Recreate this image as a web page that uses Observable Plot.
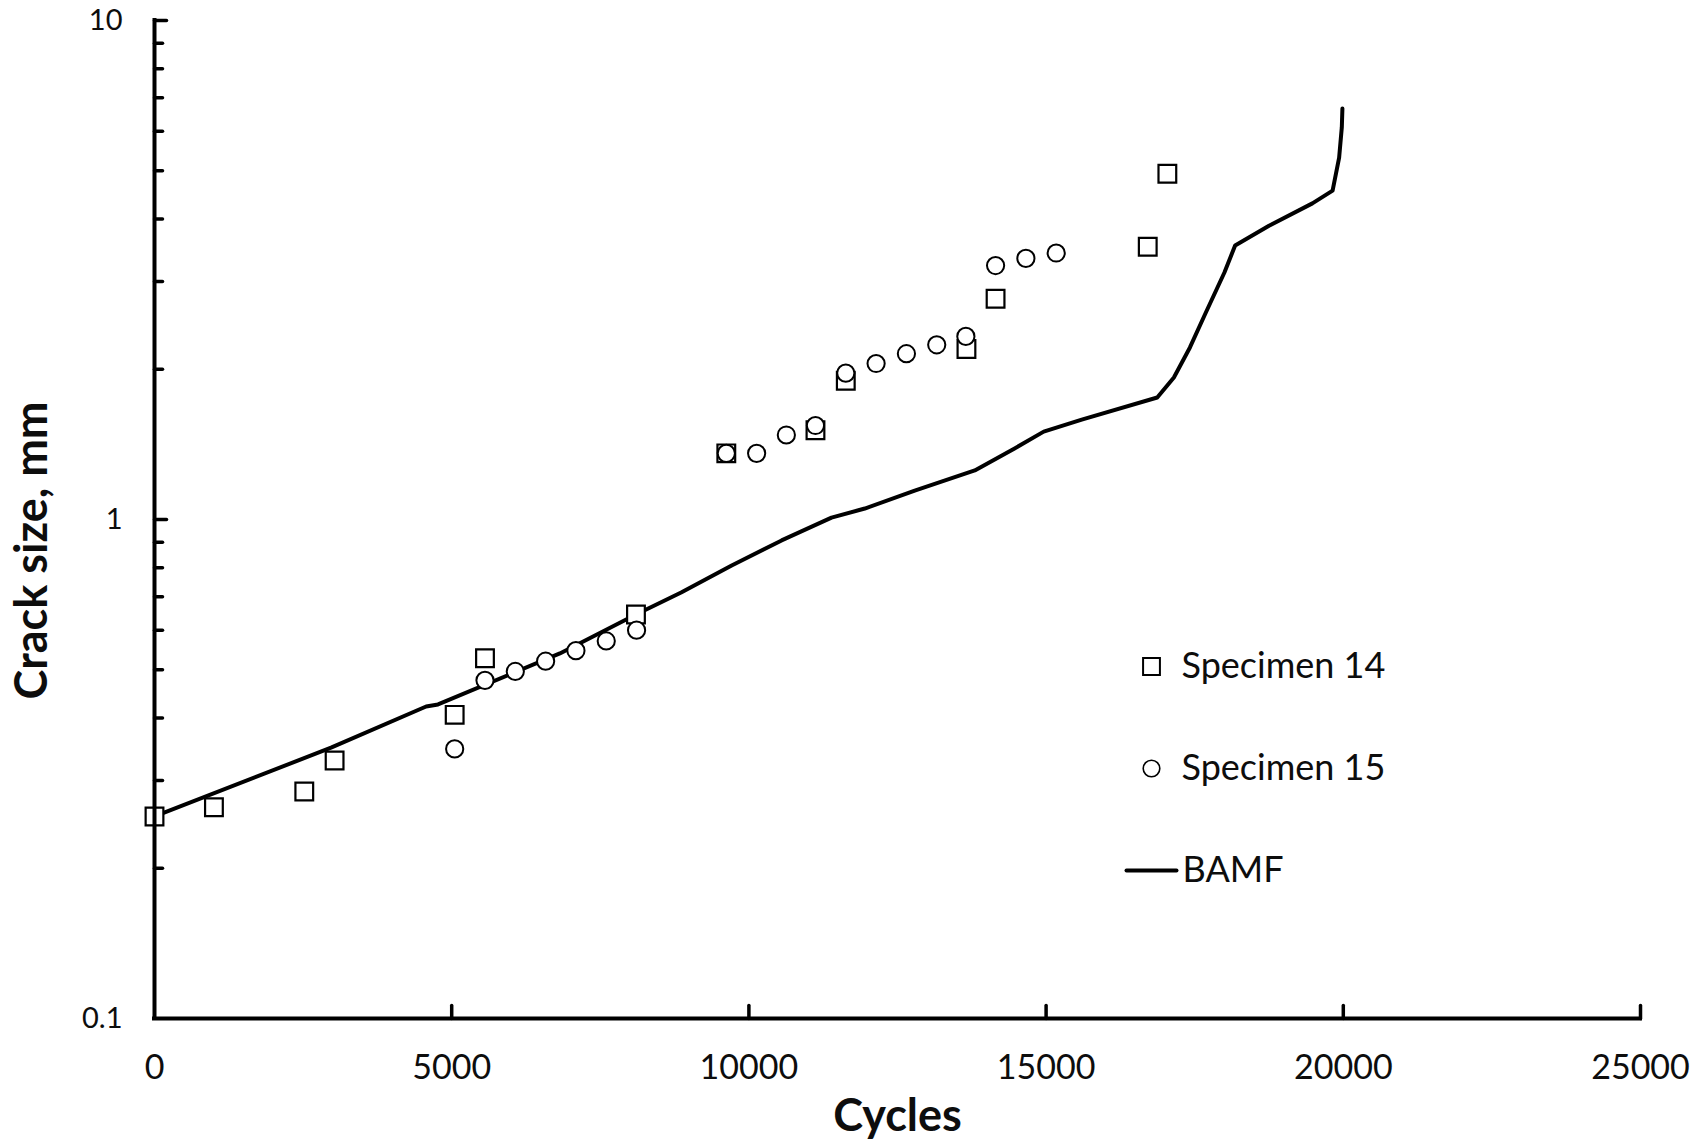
<!DOCTYPE html>
<html><head><meta charset="utf-8">
<script src="https://cdn.jsdelivr.net/npm/d3@7"></script>
<script src="https://cdn.jsdelivr.net/npm/@observablehq/plot@0.6"></script>
<style>html,body{margin:0;padding:0;background:#fff;} svg{display:block;}</style>
</head><body><div id="chart"></div>
<script>
// ---- data ----
const spec14Cycles = [0, 1000, 2520, 3030, 5050, 5560, 8100, 9620, 11120, 11630, 13660, 14150, 16710, 17040];
const spec14Crack  = [0.254, 0.265, 0.285, 0.329, 0.406, 0.527, 0.645, 1.357, 1.51, 1.897, 2.196, 2.77, 3.52, 4.93];

const spec15Cycles = [5050, 5560, 6070, 6580, 7090, 7600, 8110, 9620, 10130, 10630, 11120, 11630, 12140, 12650, 13160, 13650, 14150, 14660, 15170];
const spec15Crack  = [0.347, 0.476, 0.496, 0.520, 0.546, 0.571, 0.600, 1.357, 1.357, 1.477, 1.543, 1.965, 2.054, 2.149, 2.239, 2.328, 3.228, 3.336, 3.42];

const bamfCycles = [0, 2970, 4570, 4770, 6820, 8100, 8860, 9710, 10550, 11390, 11950, 12790, 13800, 14470, 14960, 15600, 16870, 17150, 17420, 17680, 18000, 18180, 18750, 19480, 19820, 19930, 19975, 19985];
const bamfCrack  = [0.254, 0.349, 0.422, 0.426, 0.539, 0.645, 0.714, 0.809, 0.908, 1.009, 1.052, 1.143, 1.254, 1.388, 1.50, 1.586, 1.756, 1.926, 2.212, 2.587, 3.126, 3.54, 3.88, 4.30, 4.56, 5.31, 6.11, 6.66];

const xTickValues = [0, 5000, 10000, 15000, 20000, 25000];
const xTickLabels = ["0", "5000", "10000", "15000", "20000", "25000"];
const yTickValues = [0.1, 1, 10];
const yTickLabels = ["0.1", "1", "10"];
const yMinorTicks = [0.2, 0.3, 0.4, 0.5, 0.6, 0.7, 0.8, 0.9, 2, 3, 4, 5, 6, 7, 8, 9];
const legendLabels = ["Specimen 14", "Specimen 15", "BAMF"];
const xTitle = "Cycles";
const yTitle = "Crack size, mm";

// ---- build tables ----
const spec14 = spec14Cycles.map((c, i) => ({cycles: c, crack: spec14Crack[i]}));
const spec15 = spec15Cycles.map((c, i) => ({cycles: c, crack: spec15Crack[i]}));
const bamf = bamfCycles.map((c, i) => ({cycles: c, crack: bamfCrack[i]}));
const xTicks = xTickValues.map((v, i) => ({v, label: xTickLabels[i]}));
const yTicks = yTickValues.map((v, i) => ({v, label: yTickLabels[i]}));

const lineShape = {draw(context, l) { context.moveTo(0, 0); context.lineTo(0, -l); }};
const font = "Lato, 'Open Sans', sans-serif";
const ink = "#000";
const txt = "#0d0d0d";

const chart = Plot.plot({
  width: 1699,
  height: 1142,
  marginLeft: 154,
  marginRight: 59,
  marginTop: 20,
  marginBottom: 124,
  style: {fontFamily: font, background: "#fff", color: ink},
  x: {type: "linear", domain: [0, 25000], axis: null},
  y: {type: "log", domain: [0.1, 10], axis: null},
  marks: [
    // BAMF curve
    Plot.line(bamf, {x: "cycles", y: "crack", stroke: ink, strokeWidth: 4, strokeLinejoin: "round", strokeLinecap: "round"}),
    // Specimen 14 squares
    Plot.dot(spec14, {x: "cycles", y: "crack", symbol: "square", r: 10, stroke: ink, strokeWidth: 2.2, fill: "#fff"}),
    // Specimen 15 circles
    Plot.dot(spec15, {x: "cycles", y: "crack", symbol: "circle", r: 8.6, stroke: ink, strokeWidth: 2, fill: "#fff"}),
    // axis lines
    Plot.ruleX([0], {y1: 0.1, y2: 10, stroke: ink, strokeWidth: 4, strokeLinecap: "square"}),
    Plot.ruleY([0.1], {x1: 0, x2: 25000, stroke: ink, strokeWidth: 4, strokeLinecap: "square"}),
    // y ticks (inside)
    Plot.vector(yTickValues.slice(1), {x: () => 0, y: d => d, length: 12, rotate: 90, anchor: "start", shape: lineShape, stroke: ink, strokeWidth: 3.5}),
    Plot.vector(yMinorTicks, {x: () => 0, y: d => d, length: 8, rotate: 90, anchor: "start", shape: lineShape, stroke: ink, strokeWidth: 3.5}),
    // x ticks (inside, upward)
    Plot.vector(xTickValues.slice(1), {x: d => d, y: () => 0.1, length: 13, rotate: 0, anchor: "start", shape: lineShape, stroke: ink, strokeWidth: 3.5}),
    // tick labels
    Plot.text(yTicks, {x: () => 0, y: "v", text: "label", textAnchor: "end", dx: -32, fontSize: 29, fill: txt}),
    Plot.text(xTicks, {x: "v", y: () => 0.1, text: "label", dy: 50, fontSize: 34, fill: txt}),
    // axis titles
    Plot.text([xTitle], {frameAnchor: "bottom", dy: 98, lineAnchor: "middle", textAnchor: "middle", fontSize: 45, fontWeight: "bold", fill: txt}),
    Plot.text([yTitle], {frameAnchor: "left", dx: -122, dy: 31, rotate: -90, lineAnchor: "middle", textAnchor: "middle", fontSize: 45, fontWeight: "bold", fill: txt}),
    // legend
    Plot.dot([legendLabels[0]], {frameAnchor: "top-left", dx: 997, dy: 646, symbol: "square", r: 9.5, stroke: ink, strokeWidth: 2, fill: "#fff"}),
    Plot.text([legendLabels[0]], {frameAnchor: "top-left", dx: 1027, dy: 646, textAnchor: "start", lineAnchor: "middle", fontSize: 36, fill: txt}),
    Plot.dot([legendLabels[1]], {frameAnchor: "top-left", dx: 997, dy: 748, symbol: "circle", r: 8.3, stroke: ink, strokeWidth: 1.6, fill: "#fff"}),
    Plot.text([legendLabels[1]], {frameAnchor: "top-left", dx: 1027, dy: 748, textAnchor: "start", lineAnchor: "middle", fontSize: 36, fill: txt}),
    Plot.vector([legendLabels[2]], {frameAnchor: "top-left", dx: 972, dy: 850, length: 50, rotate: 90, anchor: "start", shape: lineShape, stroke: ink, strokeWidth: 4}),
    Plot.text([legendLabels[2]], {frameAnchor: "top-left", dx: 1028, dy: 850, textAnchor: "start", lineAnchor: "middle", fontSize: 36, fill: txt})
  ]
});
document.getElementById("chart").appendChild(chart);
</script>
</body></html>
